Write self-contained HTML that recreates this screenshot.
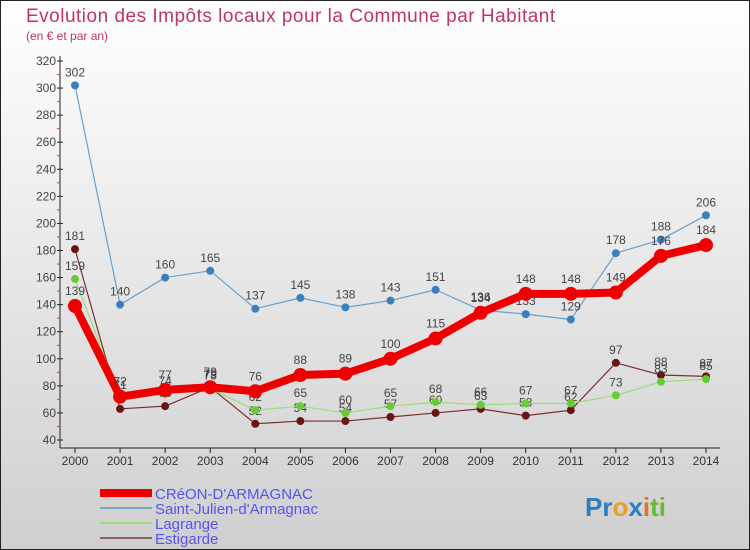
<!DOCTYPE html>
<html><head><meta charset="utf-8"><style>
body{margin:0;width:750px;height:550px;overflow:hidden;font-family:"Liberation Sans",sans-serif}
svg{display:block}
</style></head><body>
<svg id="c" width="750" height="550">
<defs><linearGradient id="bg" x1="0" y1="0" x2="0" y2="1"><stop offset="0" stop-color="#ffffff"/><stop offset="1" stop-color="#cfcfcf"/></linearGradient></defs>
<rect x="0.5" y="0.5" width="749" height="549" fill="url(#bg)" stroke="#222"/>
<text x="26" y="22" font-size="19" letter-spacing="0.5" fill="#c0336b">Evolution des Impôts locaux pour la Commune par Habitant</text>
<text x="26" y="40" font-size="12" fill="#c0336b">(en € et par an)</text>
<g id="axes"></g><g id="plot"></g>
<g font-size="15" fill="#5555ee">
<rect x="100" y="489" width="52" height="8" fill="#ee0000"/>
<text x="155" y="499">CRéON-D'ARMAGNAC</text>
<rect x="100" y="507" width="52" height="2" fill="#7aa6cc"/>
<text x="155" y="514">Saint-Julien-d'Armagnac</text>
<rect x="100" y="522" width="52" height="2" fill="#99dd77"/>
<text x="155" y="529">Lagrange</text>
<rect x="100" y="537" width="52" height="2" fill="#906060"/>
<text x="155" y="544">Estigarde</text>
</g>
<text x="585" y="516" font-size="26" font-weight="bold"><tspan fill="#2a7fc0">Pr</tspan><tspan fill="#e8a020">o</tspan><tspan fill="#2a7fc0">x</tspan><tspan fill="#e87020">i</tspan><tspan fill="#66bb33">ti</tspan></text>
</svg>
<script>
const years=[2000,2001,2002,2003,2004,2005,2006,2007,2008,2009,2010,2011,2012,2013,2014];
const creon=[139,72,77,79,76,88,89,100,115,134,148,148,149,176,184];
const stjulien=[302,140,160,165,137,145,138,143,151,136,133,129,178,188,206];
const lagrange=[159,71,74,78,62,65,60,65,68,66,67,67,73,83,85];
const estigarde=[181,63,65,79,52,54,54,57,60,63,58,62,97,88,87];
const yTicks=[40,60,80,100,120,140,160,180,200,220,240,260,280,300,320];
const NS="http://www.w3.org/2000/svg";
const X=i=>75+i*(706-75)/14;
const Y=v=>440-(v-40)*(440-61)/280;
function mk(t,a,p){const e=document.createElementNS(NS,t);for(const k in a)e.setAttribute(k,a[k]);p.appendChild(e);return e;}
const ax=document.getElementById('axes'),pl=document.getElementById('plot');
const yl=mk('line',{x1:60,y1:56,x2:60,y2:448,stroke:'#222'},ax);


const xl=mk('line',{x1:60,y1:448,x2:720,y2:448,stroke:'#222'},ax);


yTicks.forEach((v,i)=>{
 mk('line',{x1:57,x2:63,y1:Y(v),y2:Y(v),stroke:'#222'},ax);
 if(i<yTicks.length-1)mk('line',{x1:57,x2:60,y1:Y(v+10),y2:Y(v+10),stroke:'#e33'},ax);
 const t=mk('text',{x:56,y:Y(v)+4,'font-size':12,'text-anchor':'end',fill:'#444'},ax);t.textContent=v;
 
 
});
years.forEach((y,i)=>{
 mk('line',{x1:X(i),x2:X(i),y1:448,y2:453,stroke:'#222'},ax);
 const t=mk('text',{x:X(i),y:465,'font-size':12,'text-anchor':'middle',fill:'#333'},ax);t.textContent=y;
 
 
});
function series(d,name,col,dot,w,r){
 const g=mk('g',{},pl);
 
 
 const p=mk('polyline',{points:d.map((v,i)=>X(i)+','+Y(v)).join(' '),fill:'none',stroke:col,'stroke-width':w,'stroke-linejoin':'round'},g);
 
 
 d.forEach((v,i)=>{
  const c=mk('circle',{cx:X(i),cy:Y(v),r:r,fill:dot},g);
  
  
  const t=mk('text',{x:X(i),y:Y(v)-9-(r>5?2:0),'font-size':12,'text-anchor':'middle',fill:'#444'},g);t.textContent=v;
  
  
 });
}
series(estigarde,'estigarde','#7a3030','#6a1515',1.2,4);
series(lagrange,'lagrange','#99dd77','#66cc33',1.2,4);
series(stjulien,'saint-julien','#6aa0cc','#3a80c0',1.2,4);
series(creon,'creon','#ee0000','#ee0000',8,7);
</script>
</body></html>
